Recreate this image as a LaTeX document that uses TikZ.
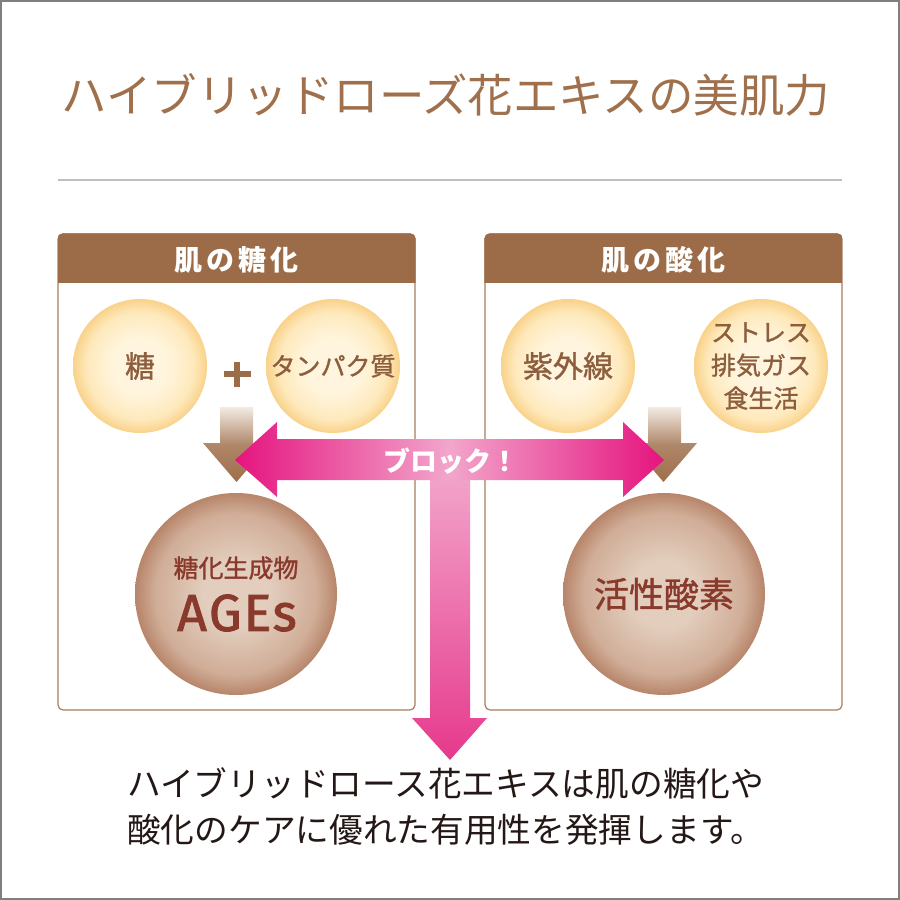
\documentclass[tikz,border=0pt]{standalone}
\usepackage{fontspec}
\setmainfont{Noto Sans CJK JP}
\newfontfamily\jp{Noto Sans CJK JP}
\newfontfamily\jpm[FakeBold=1.2]{Noto Sans CJK JP}
\newfontfamily\lat[FakeBold=1.6]{Fira Sans}
\definecolor{hdr}{HTML}{9C6C48}
\definecolor{titlec}{HTML}{A0704C}
\definecolor{boxl}{HTML}{A97D5E}
\definecolor{ytext}{HTML}{8D5E3D}
\definecolor{ycen}{HTML}{FFF5DE}
\definecolor{ymid}{HTML}{FEE9BC}
\definecolor{yedge}{HTML}{F9D28A}
\definecolor{bcen}{HTML}{E3CEBE}
\definecolor{bmid}{HTML}{D0AD97}
\definecolor{bedge}{HTML}{B7856A}
\definecolor{btext}{HTML}{8A3A2C}
\definecolor{pinkend}{HTML}{E5147F}
\definecolor{pinkmid}{HTML}{F2A6CB}
\definecolor{pinkbot}{HTML}{E6398C}
\definecolor{arrbrown}{HTML}{9E6E4B}
\definecolor{arrtop}{HTML}{F3EBE3}
\definecolor{framec}{HTML}{7F7F7F}
\definecolor{rulec}{HTML}{BEBEBE}
\definecolor{bodytext}{HTML}{231815}
\pgfdeclareradialshading{yball}{\pgfpoint{0bp}{0bp}}{color(0bp)=(ycen); color(10bp)=(ycen); color(20bp)=(ymid); color(25bp)=(yedge); color(50bp)=(yedge)}
\pgfdeclareradialshading{bball}{\pgfpoint{0bp}{0bp}}{color(0bp)=(bcen); color(8bp)=(bcen); color(20bp)=(bmid); color(25bp)=(bedge); color(50bp)=(bedge)}
\tikzset{
  panel/.style={draw=boxl, line width=1.2pt, rounded corners=5pt, fill=white, minimum width=357pt, minimum height=476pt, inner sep=0pt},
  hdrtext/.style={text=white, font=\jp\bfseries\fontsize{28}{30}\selectfont, inner sep=0pt},
  ycirc/.style={circle, minimum size=134pt, inner sep=0pt, shading=yball},
  bcirc/.style={circle, minimum size=202pt, inner sep=0pt, shading=bball},
  ctext/.style={text=ytext, align=center, inner sep=0pt},
  btxt/.style={text=btext, inner sep=0pt},
  bodyline/.style={text=bodytext, anchor=west, inner sep=0pt, font=\jp\fontsize{33.7}{36}\selectfont},
  brownarrow/.style={top color=arrtop, bottom color=arrbrown, middle color=arrbrown!80!arrtop},
}
\begin{document}
\begin{tikzpicture}[x=1pt,y=-1pt]
\useasboundingbox (0,0) rectangle (900,900);
\fill[white] (0,0) rectangle (900,900);
\draw[framec, line width=2pt] (1,1) rectangle (899,899);
% title
\node[text=titlec, inner sep=0pt, font=\jp\fontsize{45.5}{48}\selectfont] (title) at (446,95) {ハイブリッドローズ花エキスの美肌力};
\coordinate (rl) at (58,180);
\coordinate (rr) at (842,180);
\draw[rulec, line width=2pt] (rl) -- (rr);
% panels
\node[panel] (lpanel) at (236.5,472) {};
\node[panel] (rpanel) at (663.5,472) {};
\begin{scope}
\clip[rounded corners=5pt] (lpanel.north west) rectangle (lpanel.south east);
\fill[hdr] (58,230) rectangle (416,283);
\end{scope}
\begin{scope}
\clip[rounded corners=5pt] (rpanel.north west) rectangle (rpanel.south east);
\fill[hdr] (484,230) rectangle (843,283);
\end{scope}
\node[hdrtext] (lhead) at (236.5,260) {肌\kern4pt の\kern4pt 糖\kern4pt 化};
\node[hdrtext] (rhead) at (663.5,260) {肌\kern4pt の\kern4pt 酸\kern4pt 化};
% yellow circles
\node[ycirc] (sugar) at (140,366) {};
\node[ctext, font=\jpm\fontsize{30}{32}\selectfont] at (sugar) {糖};
\node[ycirc] (protein) at (333,366) {};
\node[ctext, font=\jpm\fontsize{25}{27}\selectfont] at (protein) {タンパク質};
\coordinate (plus) at (237,374);
\fill[hdr] ([xshift=-13.5pt,yshift=-3pt]plus) rectangle ([xshift=13.5pt,yshift=3pt]plus);
\fill[hdr] ([xshift=-3pt,yshift=-12.5pt]plus) rectangle ([xshift=3pt,yshift=12.5pt]plus);
\node[ycirc] (uv) at (568,366) {};
\node[ctext, font=\jpm\fontsize{30}{32}\selectfont] at (uv) {紫外線};
\node[ycirc] (stress) at (761,366) {};
\node[ctext, font=\jpm\fontsize{25}{33}\selectfont] at (stress) {ストレス\\排気ガス\\食生活};
% brown arrows
\shade[brownarrow] (220,407) -- (253,407) -- (253,443) -- (270,443) -- (236.5,482) -- (203,443) -- (220,443) -- cycle;
\shade[brownarrow] (648,407) -- (681,407) -- (681,443) -- (697,443) -- (663.5,482) -- (630,443) -- (648,443) -- cycle;
% big circles
\node[bcirc] (ages) at (236,594) {};
\node[btxt, font=\jpm\fontsize{25}{27}\selectfont] (agesjp) at (236,568) {糖化生成物};
\node[btxt, font=\lat\fontsize{52}{54}\selectfont] (agesen) at (237,613) {A\kern2pt G\kern2pt E\kern1pt s};
\node[bcirc] (ros) at (664,594) {};
\node[btxt, font=\jpm\fontsize{35}{37}\selectfont] at (ros) {活性酸素};
% pink block arrow
\shade[top color=pinkmid, bottom color=pinkbot] (430,470) -- (470,470) -- (470,718) -- (487,718) -- (450,760) -- (412,718) -- (430,718) -- cycle;
\shade[left color=pinkend, right color=pinkend, middle color=pinkmid] (235,460) -- (277,422) -- (277,439) -- (623,439) -- (623,422) -- (664,460) -- (623,497) -- (623,480) -- (277,480) -- (277,497) -- cycle;
\node[text=white, inner sep=0pt, font=\jp\bfseries\fontsize{27}{29}\selectfont] (block) at (451,461) {ブロック！};
% bottom text
\node[bodyline] (line1) at (127,783) {ハイブリッドロース花エキスは肌の糖化や};
\node[bodyline] (line2) at (127,830) {酸化のケアに優れた有用性を発揮します。};
\end{tikzpicture}
\end{document}
